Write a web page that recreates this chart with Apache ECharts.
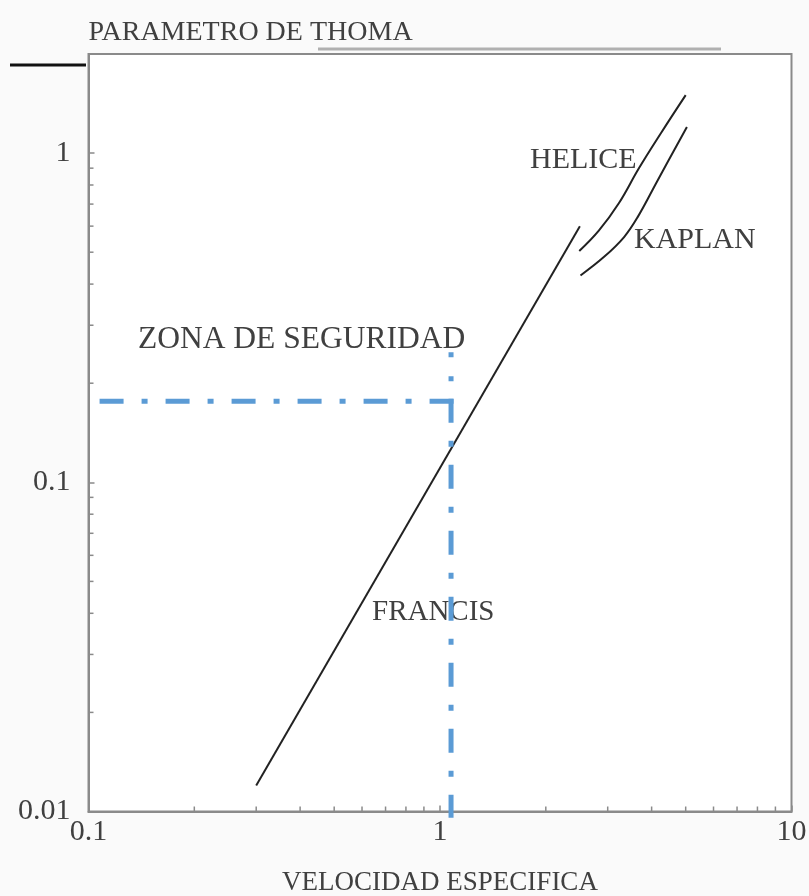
<!DOCTYPE html>
<html>
<head>
<meta charset="utf-8">
<script src="https://cdn.jsdelivr.net/npm/echarts@6/dist/echarts.min.js"></script>
<style>
  html, body { margin: 0; padding: 0; background: #fafafa; }
  #chart { width: 809px; height: 896px; }
</style>
</head>
<body>
<div id="chart"></div>
<script>
// velocidad especifica (x) vs parametro de Thoma (y), escala log-log
const francisX = [0.3, 2.5]
const francisY = [0.012, 0.6]
const heliceX = [2.49, 2.83, 3.23, 3.68, 4.25, 5.0]
const heliceY = [0.504, 0.581, 0.705, 0.899, 1.149, 1.5]
const kaplanX = [2.51, 2.93, 3.34, 3.65, 4.16, 5.04]
const kaplanY = [0.425, 0.484, 0.556, 0.639, 0.826, 1.2]

// zona de seguridad (lineas azules de trazo y punto)
const zonaHorizX = [1.093, 0.0907]
const zonaHorizY = [0.1764, 0.1764]
const zonaVertX = [1.075, 1.075]
const zonaVertAltoY = [0.2484, 0.1795]
const zonaVertBajoY = [0.1795, 0.00957]

// marcas menores de los ejes
const xMinorTicks = [0.2, 0.3, 0.4, 0.5, 0.6, 0.7, 0.8, 0.9, 2, 3, 4, 5, 6, 7, 8, 9]
const yMinorTicks = [0.02, 0.03, 0.04, 0.05, 0.06, 0.07, 0.08, 0.09, 0.2, 0.3, 0.4, 0.5, 0.6, 0.7, 0.8, 0.9]

const xMin = 0.1, xMax = 10
const yMin = 0.01, yMax = 2

const serif = '"Liberation Serif", "DejaVu Serif", serif'
const textColor = '#404040'
const axisColor = '#8a8a8a'
const blue = '#5b9bd5'

const zip = (xs, ys) => xs.map((x, i) => [x, ys[i]])

function tickItem(dir) {
  return function (params, api) {
    const p = api.coord([api.value(0), api.value(1)])
    const len = 5
    return {
      type: 'line',
      shape: dir === 'x'
        ? { x1: p[0], y1: p[1], x2: p[0], y2: p[1] - len }
        : { x1: p[0], y1: p[1], x2: p[0] + len, y2: p[1] },
      style: { stroke: axisColor, lineWidth: 1.5 }
    }
  }
}

function blackLine(name, data, smooth) {
  return {
    name: name,
    type: 'line',
    data: data,
    symbol: 'none',
    smooth: smooth,
    silent: true,
    lineStyle: { color: '#222', width: 2 }
  }
}

function blueLine(data, dash) {
  return {
    type: 'line',
    data: data,
    symbol: 'none',
    clip: false,
    silent: true,
    z: 3,
    lineStyle: { color: blue, width: 5, type: dash, cap: 'butt' }
  }
}

const chart = echarts.init(document.getElementById('chart'))

chart.setOption({
  animation: false,
  backgroundColor: '#fafafa',
  grid: {
    left: 88.5, right: 17.5, top: 54, bottom: 84.5,
    outerBoundsMode: 'none',
    containLabel: false,
    show: true,
    backgroundColor: '#fff',
    borderColor: axisColor,
    borderWidth: 2
  },
  xAxis: {
    type: 'log',
    logBase: 10,
    min: xMin,
    max: xMax,
    name: 'VELOCIDAD ESPECIFICA',
    nameLocation: 'middle',
    nameGap: 58,
    nameTextStyle: { fontFamily: serif, fontSize: 27, color: textColor },
    axisLine: { lineStyle: { color: axisColor, width: 2 } },
    axisTick: { inside: true, length: 6, lineStyle: { color: axisColor, width: 1.5 } },
    axisLabel: {
      margin: 6,
      fontFamily: serif, fontSize: 30, color: textColor,
      formatter: v => String(+v.toPrecision(3))
    },
    splitLine: { show: false }
  },
  yAxis: {
    type: 'log',
    logBase: 10,
    min: yMin,
    max: yMax,
    name: 'PARAMETRO DE THOMA',
    nameLocation: 'end',
    nameGap: 21,
    nameTextStyle: { fontFamily: serif, fontSize: 28, color: textColor, align: 'left', verticalAlign: 'middle' },
    axisLine: { lineStyle: { color: axisColor, width: 2 } },
    axisTick: { inside: true, length: 6, lineStyle: { color: axisColor, width: 1.5 } },
    axisLabel: {
      margin: 18,
      showMaxLabel: false,
      fontFamily: serif, fontSize: 30, color: textColor,
      formatter: v => String(+v.toPrecision(3))
    },
    splitLine: { show: false }
  },
  graphic: [
    { type: 'line', shape: { x1: 318, y1: 49, x2: 721, y2: 49 }, style: { stroke: '#b0b0b0', lineWidth: 3 } },
    { type: 'line', shape: { x1: 10, y1: 65, x2: 86, y2: 65 }, style: { stroke: '#111', lineWidth: 3 } },
    { type: 'text', x: 530, y: 160, style: { text: 'HELICE', font: '30px ' + serif, fill: textColor, verticalAlign: 'middle' } },
    { type: 'text', x: 634, y: 240, style: { text: 'KAPLAN', font: '30px ' + serif, fill: textColor, verticalAlign: 'middle' } },
    { type: 'text', x: 138, y: 340, style: { text: 'ZONA DE SEGURIDAD', font: '31.5px ' + serif, fill: textColor, verticalAlign: 'middle' } },
    { type: 'text', x: 372, y: 612, style: { text: 'FRANCIS', font: '29px ' + serif, fill: textColor, verticalAlign: 'middle' } }
  ],
  series: [
    blackLine('FRANCIS', zip(francisX, francisY), false),
    blackLine('HELICE', zip(heliceX, heliceY), 0.4),
    blackLine('KAPLAN', zip(kaplanX, kaplanY), 0.4),
    blueLine(zip(zonaHorizX, zonaHorizY), [24, 18, 6, 18]),
    blueLine(zip(zonaVertX, zonaVertAltoY), [5, 19]),
    blueLine(zip(zonaVertX, zonaVertBajoY), [24, 18, 6, 18]),
    {
      type: 'custom',
      silent: true,
      clip: false,
      renderItem: tickItem('x'),
      data: xMinorTicks.map(v => [v, yMin])
    },
    {
      type: 'custom',
      silent: true,
      clip: false,
      renderItem: tickItem('y'),
      data: yMinorTicks.map(v => [xMin, v])
    }
  ]
})
</script>
</body>
</html>
